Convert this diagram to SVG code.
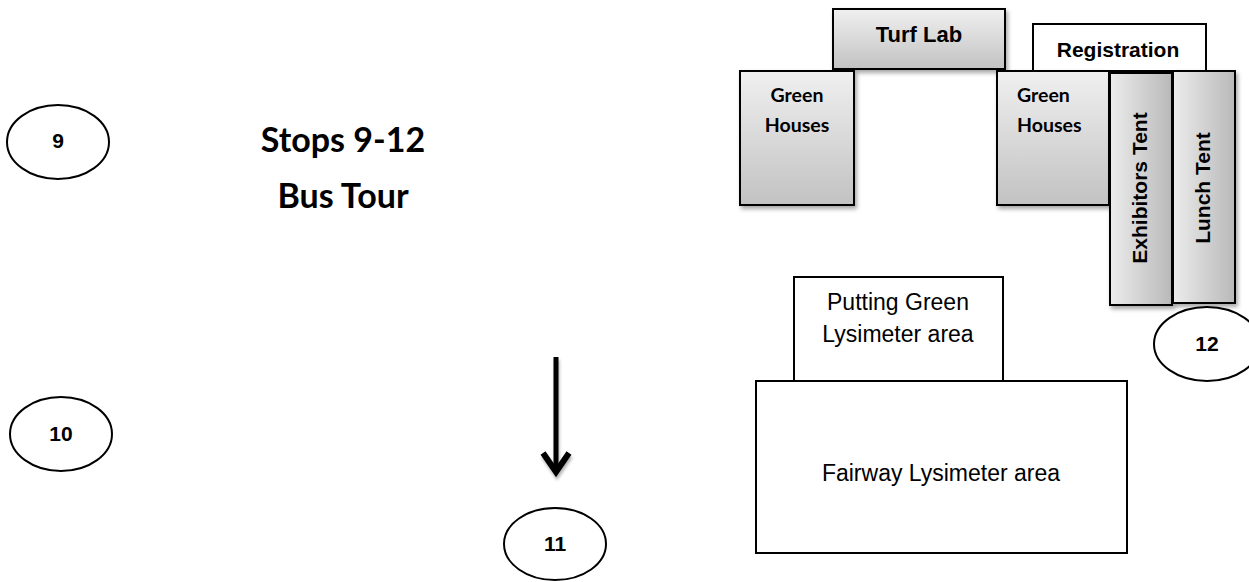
<svg xmlns="http://www.w3.org/2000/svg" width="1249" height="582" viewBox="0 0 1249 582">
<defs>
<linearGradient id="gv" x1="0" y1="0" x2="0" y2="1">
<stop offset="0" stop-color="#f0f0f0"/>
<stop offset="1" stop-color="#c2c2c2"/>
</linearGradient>
<linearGradient id="gh" x1="0" y1="0" x2="1" y2="0">
<stop offset="0" stop-color="#ececec"/>
<stop offset="1" stop-color="#b9b9b9"/>
</linearGradient>
<filter id="sh" x="-10%" y="-10%" width="130%" height="130%">
<feDropShadow dx="2" dy="3" stdDeviation="2" flood-color="#000" flood-opacity="0.35"/>
</filter>
<filter id="shl" filterUnits="userSpaceOnUse" x="520" y="340" width="80" height="160">
<feDropShadow dx="1" dy="3" stdDeviation="1.5" flood-color="#000" flood-opacity="0.3"/>
</filter>
<marker id="chev" markerUnits="userSpaceOnUse" markerWidth="34" markerHeight="34" refX="24" refY="17" orient="auto" viewBox="0 0 34 34">
<polyline points="5,4 24,17 5,30" fill="none" stroke="#000" stroke-width="6"/>
</marker>
</defs>
<style>
.box{stroke:#000;stroke-width:2}
.gray{fill:url(#gv);filter:url(#sh)}
.tent{fill:url(#gh);filter:url(#sh)}
.white{fill:#fff}
.ell{fill:#fff;stroke:#000;stroke-width:2}
.ar{font-family:"Liberation Sans",Arial,sans-serif;fill:#000}
.arb{font-family:"Liberation Sans",Arial,sans-serif;font-weight:bold;fill:#000}
.cal{font-family:Lato,"Open Sans",sans-serif;font-weight:bold;fill:#000}
</style>

<g id="title">
<text class="cal" x="343" y="152" font-size="34" text-anchor="middle">Stops 9-12</text>
<text class="cal" x="343" y="208" font-size="34" text-anchor="middle">Bus Tour</text>
</g>

<g id="registration">
<rect class="box white" x="1033" y="24" width="173" height="47"/>
<text class="arb" x="1118" y="57" font-size="21" text-anchor="middle">Registration</text>
</g>

<g id="turf-lab">
<rect class="box gray" x="833" y="9" width="172" height="60"/>
<text class="arb" x="919" y="42" font-size="22" text-anchor="middle">Turf Lab</text>
</g>

<g id="green-houses-left">
<rect class="box gray" x="740" y="71" width="114" height="134"/>
<text class="cal" x="797" y="102" font-size="19.5" text-anchor="middle">Green</text>
<text class="cal" x="797" y="132" font-size="19.5" text-anchor="middle">Houses</text>
</g>

<g id="green-houses-right">
<rect class="box gray" x="997" y="71" width="112" height="134"/>
<text class="cal" x="1017" y="102" font-size="19.5">Green</text>
<text class="cal" x="1017" y="132" font-size="19.5">Houses</text>
</g>

<g id="exhibitors-tent">
<rect class="box tent" x="1110" y="73" width="62" height="232"/>
<text class="arb" font-size="21" text-anchor="middle" transform="translate(1147 188) rotate(-90)">Exhibitors Tent</text>
</g>

<g id="lunch-tent">
<rect class="box tent" x="1173" y="71" width="62" height="232"/>
<text class="arb" font-size="21" text-anchor="middle" transform="translate(1210 188) rotate(-90)">Lunch Tent</text>
</g>

<g id="putting-green">
<rect class="box white" x="794" y="277" width="209" height="104"/>
<text class="ar" x="898" y="310" font-size="23" text-anchor="middle">Putting Green</text>
<text class="ar" x="898" y="342" font-size="23" text-anchor="middle">Lysimeter area</text>
</g>

<g id="fairway">
<rect class="box white" x="756" y="381" width="371" height="172"/>
<text class="ar" x="941" y="481" font-size="23" text-anchor="middle">Fairway Lysimeter area</text>
</g>

<g id="stop-9">
<ellipse class="ell" cx="58" cy="142" rx="51" ry="37"/>
<text class="arb" x="58" y="148" font-size="21" text-anchor="middle">9</text>
</g>

<g id="stop-10">
<ellipse class="ell" cx="61" cy="434" rx="51" ry="37"/>
<text class="arb" x="61" y="441" font-size="21" text-anchor="middle">10</text>
</g>

<g id="stop-11">
<ellipse class="ell" cx="555" cy="544" rx="51" ry="36"/>
<text class="arb" x="555" y="551" font-size="21" text-anchor="middle">11</text>
</g>

<g id="stop-12">
<ellipse class="ell" cx="1207" cy="344" rx="53" ry="37"/>
<text class="arb" x="1207" y="351" font-size="21" text-anchor="middle">12</text>
</g>

<g id="connectors" filter="url(#shl)">
<line x1="556" y1="357" x2="556" y2="472" stroke="#000" stroke-width="5" marker-end="url(#chev)"/>
</g>
</svg>
